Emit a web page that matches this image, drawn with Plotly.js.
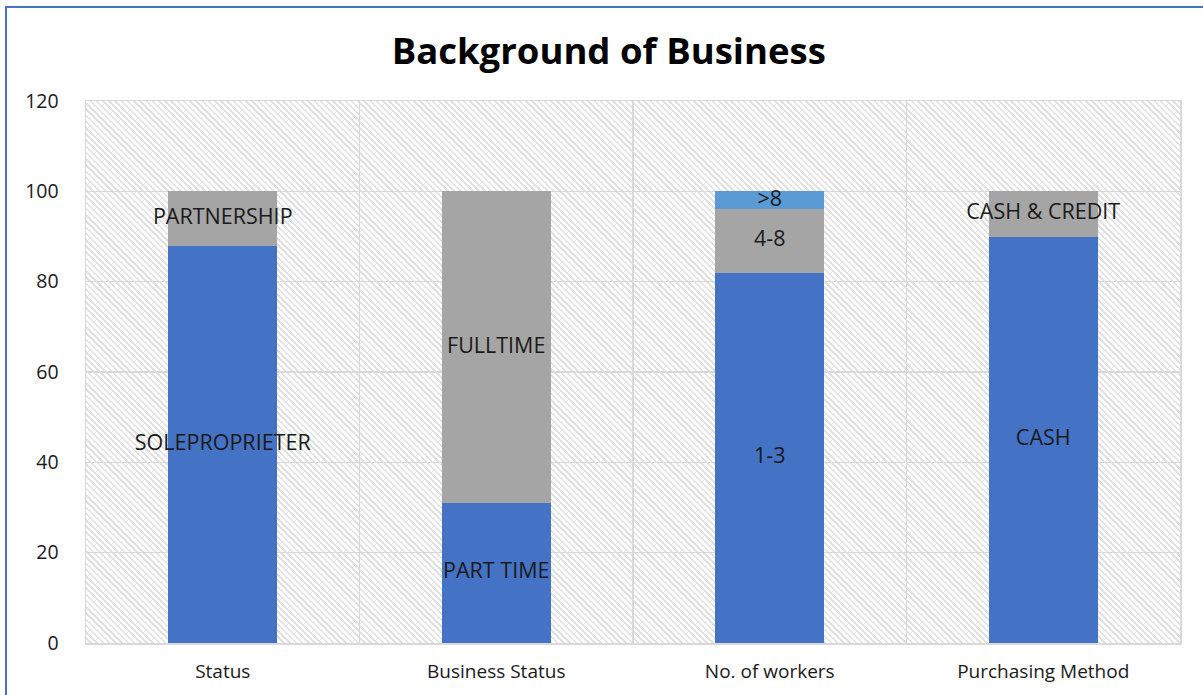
<!DOCTYPE html>
<html>
<head>
<meta charset="utf-8">
<script src="https://cdn.plot.ly/plotly-3.0.1.min.js"></script>
<style>
  html, body { margin: 0; padding: 0; background: #ffffff; }
  #wrap { position: relative; width: 1203px; height: 695px; overflow: hidden; background: #ffffff; }
  #frame { position: absolute; left: 5px; top: 6px; width: 1300px; height: 800px; border: 2px solid #4472c4; box-sizing: border-box; }
  #hatch { position: absolute; left: 86px; top: 101px; width: 1094px; height: 542px;
    background: repeating-linear-gradient(45deg, #ffffff 0px, #ffffff 2.6px, #e2e2e2 2.6px, #e2e2e2 4.4px); }
  #chart { position: absolute; left: 0; top: 0; width: 1203px; height: 695px; }
</style>
</head>
<body>
<div id="wrap">
  <div id="frame"></div>
  <div id="hatch"></div>
  <div id="chart"></div>
</div>
<script>
const categories = ["Status", "Business Status", "No. of workers", "Purchasing Method"];
const bottomValues = [88, 31, 82, 90];
const bottomLabels = ["SOLEPROPRIETER", "PART TIME", "1-3", "CASH"];
const middleValues = [12, 69, 14, 10];
const middleLabels = ["PARTNERSHIP", "FULLTIME", "4-8", "CASH & CREDIT"];
const topValues = [0, 0, 4, 0];
const topLabels = ["", "", ">8", ""];
const yTicks = [0, 20, 40, 60, 80, 100, 120];

const FONT = "Open Sans, Noto Sans, sans-serif";

const barBase = { type: "bar", x: categories, hoverinfo: "none", showlegend: false, width: 0.4 };
const traces = [
  Object.assign({}, barBase, { y: bottomValues, marker: { color: "#4472c4" } }),
  Object.assign({}, barBase, { y: middleValues, marker: { color: "#a5a5a5" } }),
  Object.assign({}, barBase, { y: topValues, marker: { color: "#5b9bd5" } })
];

// label positions: centre of each stacked segment, derived from the data
const labelX = [], labelY = [], labelT = [];
categories.forEach((c, i) => {
  const segs = [[bottomValues[i], bottomLabels[i]], [middleValues[i], middleLabels[i]], [topValues[i], topLabels[i]]];
  let base = 0;
  segs.forEach(([v, t]) => {
    if (v > 0 && t) { labelX.push(c); labelY.push(base + v / 2); labelT.push(t); }
    base += v;
  });
});
traces.push({
  type: "scatter", mode: "text", x: labelX, y: labelY, text: labelT,
  textposition: "middle center", cliponaxis: false,
  textfont: { family: FONT, size: 21.5, color: "#1a1a1a" },
  hoverinfo: "none", showlegend: false
});

const layout = {
  width: 1203, height: 695,
  margin: { l: 86, r: 23, t: 101, b: 52 },
  paper_bgcolor: "rgba(0,0,0,0)",
  plot_bgcolor: "rgba(0,0,0,0)",
  barmode: "stack",
  title: { text: "<b>Background of Business</b>", x: 0.506, xanchor: "center", y: 0.927, yanchor: "middle",
           font: { family: FONT, size: 36.5, color: "#000000" } },
  xaxis: {
    type: "category", tickson: "boundaries", showgrid: true, gridcolor: "#d9d9d9", gridwidth: 1.5,
    ticks: "", showline: true, linecolor: "#d9d9d9", linewidth: 1.5, mirror: true,
    tickfont: { family: FONT, size: 19, color: "#1a1a1a" }, ticklabelstandoff: 11,
    fixedrange: true
  },
  yaxis: {
    range: [0, 120], tickvals: yTicks, showgrid: true, gridcolor: "#d9d9d9", gridwidth: 1.5,
    zeroline: false, showline: true, linecolor: "#d9d9d9", linewidth: 1.5, mirror: true,
    ticks: "", tickfont: { family: FONT, size: 19.5, color: "#1a1a1a" }, ticklabelstandoff: 22,
    fixedrange: true
  },
  font: { family: FONT }
};

Plotly.newPlot("chart", traces, layout, { displayModeBar: false, staticPlot: true });
</script>
</body>
</html>
